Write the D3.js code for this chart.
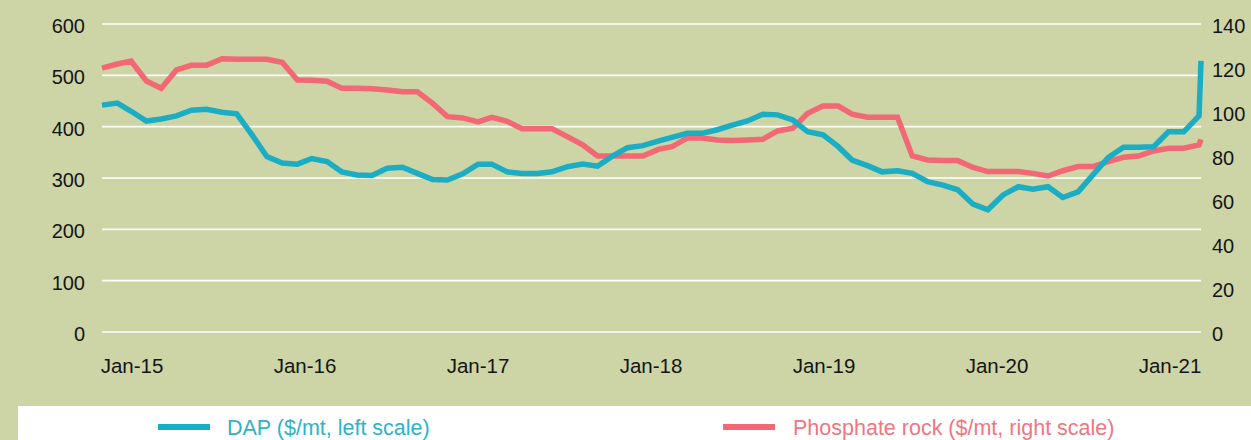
<!DOCTYPE html>
<html>
<head>
<meta charset="utf-8">
<script src="https://cdn.jsdelivr.net/npm/d3@7/dist/d3.min.js"></script>
<style>
  html, body { margin: 0; padding: 0; background: #cdd5a6; }
  svg { display: block; }
  text { font-family: "Liberation Sans", Arial, sans-serif; }
</style>
</head>
<body>
<svg id="chart" width="1251" height="440"></svg>
<script>
// ---- Data (monthly, Jan-2015 .. Mar-2021) ----
const startMonth = "2015-01-01";
const endMonth = "2021-03-01";
const dap = [
  442, 446, 430, 411, 415, 421, 432, 434, 428, 425, 384, 342,
  329, 327, 338, 332, 312, 306, 305, 319, 321, 309, 297, 296,
  308, 327, 327, 312, 309, 309, 312, 322, 327, 323, 343, 359,
  363, 372, 379, 387, 387, 394, 403, 411, 424, 423, 413, 390,
  384, 361, 335, 324, 312, 314, 309, 293, 286, 277, 249, 238,
  267, 283, 278, 283, 262, 273, 306, 340, 360, 360, 361, 390,
  390, 421, 528
];
const rock = [
  119.9, 121.8, 123.2, 114.1, 110.8, 119.1, 121.2, 121.2, 124.2, 124.0, 124.0, 124.0,
  122.6, 114.5, 114.4, 114.0, 110.8, 110.8, 110.6, 110.0, 109.2, 109.2, 103.9, 97.9,
  97.3, 95.5, 97.6, 95.8, 92.4, 92.4, 92.4, 88.8, 85.1, 80.0, 80.0, 80.0,
  80.0, 83.0, 84.2, 88.2, 88.2, 87.3, 87.0, 87.3, 87.6, 91.4, 92.6, 99.4,
  102.7, 102.7, 99.0, 97.6, 97.6, 97.6, 80.0, 78.2, 77.9, 77.9, 74.8, 72.9,
  72.9, 72.9, 72.1, 70.9, 73.3, 75.2, 75.2, 77.4, 79.4, 80.0, 82.3, 83.5,
  83.5, 85.0, 87.6
];
const xLabels = ["Jan-15", "Jan-16", "Jan-17", "Jan-18", "Jan-19", "Jan-20", "Jan-21"];
const leftTicks = [0, 100, 200, 300, 400, 500, 600];
const rightTicks = [0, 20, 40, 60, 80, 100, 120, 140];
const seriesNames = ["DAP ($/mt, left scale)", "Phosphate rock ($/mt, right scale)"];

// ---- Setup ----
const parse = d3.timeParse("%Y-%m-%d");
const months = d3.timeMonth.range(parse(startMonth), d3.timeMonth.offset(parse(endMonth), 1));
const colors = { dap: "#1badc4", rock: "#f26874" };
const textColors = { dap: "#2fb2c7", rock: "#f07680" };

const svg = d3.select("#chart");
const W = 1251, H = 440;
const plot = { left: 102, right: 1201, top: 24, bottom: 332 };

svg.append("rect").attr("x", 0).attr("y", 0).attr("width", W).attr("height", H).attr("fill", "#cdd5a6");

const x = d3.scaleTime()
  .domain([parse("2015-01-01"), parse("2021-02-05")])
  .range([plot.left, plot.right])
  .clamp(true);
const yL = d3.scaleLinear().domain([0, 600]).range([plot.bottom, plot.top]);
const yR = d3.scaleLinear().domain([0, 140]).range([plot.bottom, plot.top]);
const xl = d3.scalePoint().domain(xLabels).range([132, 1170]);

// gridlines
svg.append("g")
  .selectAll("line")
  .data(leftTicks)
  .join("line")
  .attr("x1", plot.left).attr("x2", plot.right)
  .attr("y1", d => yL(d)).attr("y2", d => yL(d))
  .attr("stroke", "#ffffff").attr("stroke-width", 1.6);

// left axis labels
svg.append("g")
  .selectAll("text")
  .data(leftTicks)
  .join("text")
  .attr("x", 85).attr("y", d => yL(d) + 9)
  .attr("text-anchor", "end")
  .attr("font-size", 20)
  .attr("fill", "#141414")
  .text(d => d);

// right axis labels
svg.append("g")
  .selectAll("text")
  .data(rightTicks)
  .join("text")
  .attr("x", 1212).attr("y", d => yR(d) + 9)
  .attr("text-anchor", "start")
  .attr("font-size", 20)
  .attr("fill", "#141414")
  .text(d => d);

// x labels
svg.append("g")
  .selectAll("text")
  .data(xLabels)
  .join("text")
  .attr("x", d => xl(d)).attr("y", 373)
  .attr("text-anchor", "middle")
  .attr("font-size", 20.5)
  .attr("fill", "#141414")
  .text(d => d);

// lines
const lineL = d3.line().x((d, i) => x(months[i])).y(d => yL(d));
const lineR = d3.line().x((d, i) => x(months[i])).y(d => yR(d));

svg.append("path").datum(rock)
  .attr("d", lineR).attr("fill", "none")
  .attr("stroke", colors.rock).attr("stroke-width", 5.5)
  .attr("stroke-linejoin", "miter").attr("stroke-linecap", "butt");

svg.append("path").datum(dap)
  .attr("d", lineL).attr("fill", "none")
  .attr("stroke", colors.dap).attr("stroke-width", 5.5)
  .attr("stroke-linejoin", "miter").attr("stroke-linecap", "butt");

// legend
svg.append("rect").attr("x", 18).attr("y", 406).attr("width", W - 18).attr("height", H - 406).attr("fill", "#ffffff");
const legend = [
  { name: seriesNames[0], c: colors.dap, tc: textColors.dap, x1: 158, x2: 210, tx: 227 },
  { name: seriesNames[1], c: colors.rock, tc: textColors.rock, x1: 723, x2: 775, tx: 793 }
];
const lg = svg.append("g").selectAll("g").data(legend).join("g");
lg.append("line")
  .attr("x1", d => d.x1).attr("x2", d => d.x2)
  .attr("y1", 427).attr("y2", 427)
  .attr("stroke", d => d.c).attr("stroke-width", 6);
lg.append("text")
  .attr("x", d => d.tx).attr("y", 435)
  .attr("font-size", 21.5)
  .attr("fill", d => d.tc)
  .text(d => d.name);
</script>
</body>
</html>
